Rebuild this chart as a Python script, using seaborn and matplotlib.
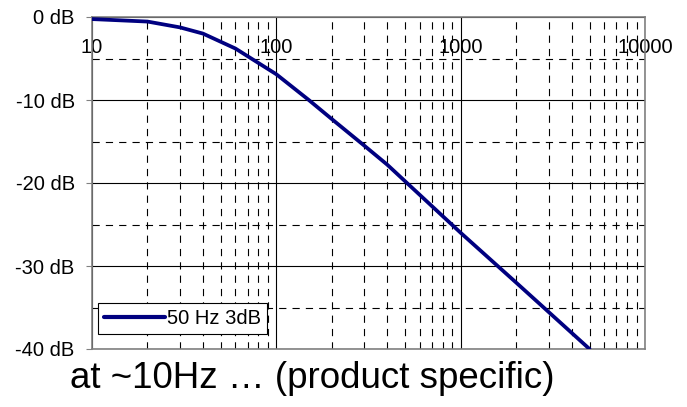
import numpy as np
import pandas as pd
import matplotlib
matplotlib.use("Agg")
import matplotlib.pyplot as plt
import seaborn as sns
from matplotlib.ticker import FixedLocator, NullFormatter

# Data
freq_hz = [10, 20, 30, 40, 60, 100, 150, 200, 300, 400, 500, 1000, 2000, 5000]
gain_db = [-0.25, -0.55, -1.25, -2.0, -3.8, -6.9, -10.0, -12.3, -15.5, -17.8, -19.8, -26.0, -32.0, -40.0]
series_name = "50 Hz 3dB"
x_major = [10, 100, 1000, 10000]
x_major_labels = ["10", "100", "1000", "10000"]
y_major = [-40, -30, -20, -10, 0]
y_major_labels = ["-40 dB", "-30 dB", "-20 dB", "-10 dB", "0 dB"]
y_minor = [-35, -25, -15, -5]
footer = "at ~10Hz \u2026 (product specific)"

sns.set_style("white")
plt.rcParams["font.family"] = ["Liberation Sans", "DejaVu Sans"]
plt.rcParams["text.color"] = "black"
plt.rcParams["xtick.labelcolor"] = "black"
plt.rcParams["ytick.labelcolor"] = "black"

df = pd.DataFrame({"freq": freq_hz, "gain": gain_db, "series": series_name})

fig = plt.figure(figsize=(6.87, 4.07), dpi=100)
ax = fig.add_axes([92/687, 58/407, (645-92)/687, (349-17)/407])

sns.lineplot(data=df, x="freq", y="gain", hue="series", palette=["#000080"],
             linewidth=2.7, ax=ax, zorder=5)
ax.set_xscale("log")
ax.set_xlim(10, 10000)
ax.set_ylim(-40, 0)

x_minor = [m * d for d in [10, 100, 1000] for m in range(2, 10)]
ax.xaxis.set_major_locator(FixedLocator(x_major))
ax.xaxis.set_minor_locator(FixedLocator(x_minor))
ax.xaxis.set_minor_formatter(NullFormatter())
ax.set_xticks(x_major, x_major_labels)
ax.set_yticks(y_major, y_major_labels)
ax.yaxis.set_minor_locator(FixedLocator(y_minor))

dash = (0, (6.5, 5.5))
ax.grid(True, which="major", axis="both", color="black", linewidth=0.8, linestyle="-")
ax.grid(True, which="minor", axis="both", color="black", linewidth=0.8, linestyle=dash)
ax.set_axisbelow(True)

ax.tick_params(axis="x", which="both", top=False, bottom=False, labeltop=True,
               labelbottom=False, length=0, pad=-15, labelsize=14.5,
               labelcolor="black")
ax.tick_params(axis="y", which="major", left=True, length=4.5, width=0.8,
               color="#808080", pad=8, labelsize=14.5, labelcolor="black")
ax.tick_params(axis="y", which="minor", left=False, length=0)
for lab in ax.get_xticklabels():
    lab.set_verticalalignment("top")

for s in ax.spines.values():
    s.set_color("#808080")
    s.set_linewidth(1.2)

ax.set_xlabel("")
ax.set_ylabel("")

leg = ax.legend(loc="lower left", bbox_to_anchor=(0.011, 0.045), fontsize=14.5,
                frameon=True, fancybox=False, framealpha=1, edgecolor="black",
                handlelength=3.0, handletextpad=0.1, borderpad=0.3,
                borderaxespad=0)
leg.get_frame().set_linewidth(0.8)
for t in leg.get_texts():
    t.set_color("black")
for ln in leg.get_lines():
    ln.set_linewidth(3)

fig.text(70/687, 1 - 379/407, footer, fontsize=26.5, ha="left", va="center",
         color="black")

fig.savefig("out.png", dpi=100)
